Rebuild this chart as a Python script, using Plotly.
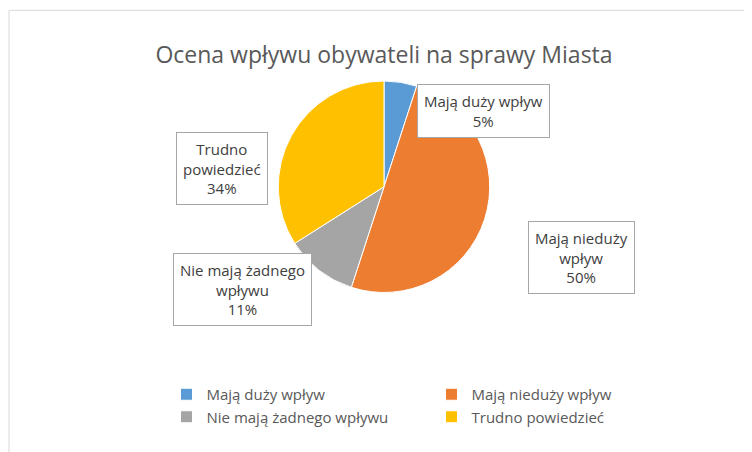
import plotly.graph_objects as go

labels = ["Mają duży wpływ", "Mają nieduży wpływ", "Nie mają żadnego wpływu", "Trudno powiedzieć"]
values = [5, 50, 11, 34]
colors = ["#5B9BD5", "#ED7D31", "#A5A5A5", "#FFC000"]
callouts = ["Mają duży wpływ<br>5%", "Mają nieduży<br>wpływ<br>50%",
            "Nie mają żadnego<br>wpływu<br>11%", "Trudno<br>powiedzieć<br>34%"]

fig = go.Figure(go.Pie(
    labels=labels, values=values, sort=False, direction="clockwise", rotation=0,
    marker=dict(colors=colors, line=dict(color="white", width=1)),
    textinfo="none", hoverinfo="label+percent",
    domain=dict(x=[0.3, 0.7], y=[0.37, 0.84]),
))

pos = [(476, 75), (628, 250), (164, 318), (167, 124)]
for t, (x, y) in zip(callouts, pos):
    fig.add_annotation(x=x/752, y=1-y/452, xref="paper", yref="paper", text=t,
                       showarrow=False, bordercolor="#A6A6A6", borderwidth=1, borderpad=6,
                       bgcolor="white", font=dict(size=15, color="#404040"))

fig.add_shape(type="rect", xref="paper", yref="paper", x0=0, y0=0, x1=0.998, y1=0.997,
              line=dict(color="#D9D9D9", width=1))

fig.update_layout(
    width=752, height=452, margin=dict(l=1, r=1, t=1, b=1, autoexpand=False),
    paper_bgcolor="white", font=dict(family="Open Sans, DejaVu Sans", color="#595959"),
    title=dict(text="Ocena wpływu obywateli na sprawy Miasta", x=0.5, y=0.915, xanchor="center",
               font=dict(size=23, color="#595959")),
    legend=dict(orientation="h", x=0.21, xanchor="left", y=0.18, yanchor="top",
                entrywidth=220, font=dict(size=15, color="#595959"), traceorder="normal",
                tracegroupgap=10),
)
fig.write_html("out.html")
